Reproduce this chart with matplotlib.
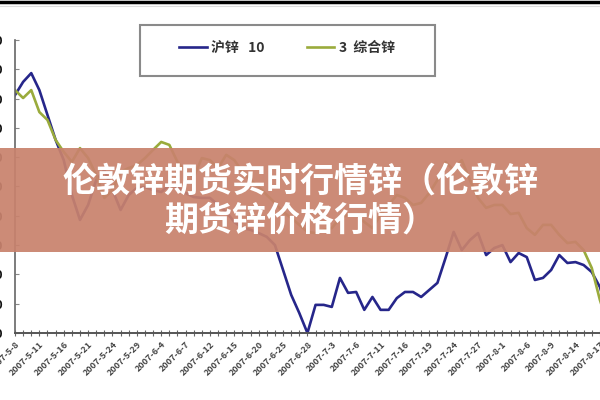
import matplotlib
matplotlib.use('Agg')
import matplotlib.pyplot as plt
from matplotlib.patches import Rectangle
from matplotlib.lines import Line2D
from matplotlib.ticker import MultipleLocator

plt.rcParams['font.family'] = ['Noto Sans CJK SC', 'DejaVu Sans']

# ---- data ----
date_labels = ['2007-5-8', '2007-5-11', '2007-5-16', '2007-5-21', '2007-5-24',
               '2007-5-29', '2007-6-4', '2007-6-7', '2007-6-12', '2007-6-15',
               '2007-6-20', '2007-6-25', '2007-6-28', '2007-7-3', '2007-7-6',
               '2007-7-11', '2007-7-16', '2007-7-19', '2007-7-24', '2007-7-27',
               '2007-8-1', '2007-8-6', '2007-8-9', '2007-8-14', '2007-8-17']

shanghai_zinc = [35120, 35570, 35870, 35290, 34440, 33590, 32900, 31710, 30860, 31370,
                 32220, 32560, 31880, 31200, 31710, 31950, 31980, 31880, 31810, 32050,
                 31980, 31780, 31640, 31610, 31610, 31370, 31130, 30790, 30580, 30520,
                 30410, 30280, 30000, 29150, 28300, 27680, 27000, 27960, 27960, 27890,
                 28880, 28370, 28400, 27790, 28230, 27790, 27790, 28190, 28400, 28400,
                 28230, 28470, 28710, 29560, 30450, 29830, 30170, 30410, 29660, 29900,
                 30000, 29420, 29730, 29590, 28810, 28880, 29150, 29660, 29390, 29420,
                 29320, 29080, 28570, 27610]

lme_zinc = [35290, 35020, 35290, 34540, 34270, 33590, 33180, 32840, 33310, 32970,
            32390, 31610, 31880, 32500, 32630, 32730, 32970, 33250, 33520, 33420,
            32840, 32500, 32320, 32970, 32900, 32630, 33080, 32900, 32500, 32220,
            31980, 31710, 31440, 31130, 30930, 30690, 30450, 30410, 30520, 30580,
            30930, 31030, 31030, 30790, 30580, 31030, 31370, 31710, 31610, 31370,
            31440, 31780, 32220, 32840, 32560, 32900, 32220, 31610, 31270, 31370,
            31370, 31060, 31100, 30580, 30350, 30690, 30690, 30350, 30070, 30110,
            29830, 29220, 28130, 27270]

series_names = ['沪锌   10', '3  综合锌']
y_ticks = list(range(27000, 37001, 1000))

# ---- figure ----
fig = plt.figure(figsize=(6, 4), dpi=100)
fig.patch.set_facecolor('white')
ax = fig.add_axes([15/600, 67/400, 593/600, 293/400])

xs = list(range(len(shanghai_zinc)))
l1, = ax.plot(xs, shanghai_zinc, color='#26268a', lw=1.9, solid_joinstyle='round')
l2, = ax.plot(xs, lme_zinc, color='#9aab3c', lw=1.9, solid_joinstyle='round')

ax.set_xlim(0, len(xs) - 1)
ax.set_ylim(y_ticks[0], y_ticks[-1])
for s in ['top', 'right']:
    ax.spines[s].set_visible(False)
ax.spines['left'].set_color('#666666')
ax.spines['bottom'].set_color('#555555')
ax.spines['left'].set_linewidth(1.2)
ax.spines['bottom'].set_linewidth(1.4)

ax.set_yticks(y_ticks)
ax.set_yticklabels([str(v) for v in y_ticks])
ax.tick_params(axis='y', direction='in', length=3, width=0.8, color='#888888',
               pad=8.5, labelsize=9, labelcolor='#111111')
for t in ax.get_yticklabels():
    t.set_fontweight('bold')

ax.set_xticks(list(range(0, len(xs), 3)))
ax.set_xticklabels(date_labels, rotation=45, ha='right', va='top',
                   rotation_mode='anchor', fontsize=6.5, color='#444444',
                   fontweight='bold')
ax.xaxis.set_minor_locator(MultipleLocator(1))
ax.tick_params(axis='x', which='both', direction='inout', length=4, width=0.8,
               color='#666666', pad=3)

# ---- legend ----
fig.add_artist(Rectangle((140/600, 1 - 76/400), 295/600, 51/400,
                         transform=fig.transFigure, fill=False,
                         ec='#8a8a8a', lw=1.5))
leg = fig.legend([l1, l2], series_names, loc='center',
                 bbox_to_anchor=(287/600, 1 - 48/400), ncol=2, frameon=False,
                 fontsize=10, handlelength=2.0, handletextpad=0.3,
                 columnspacing=3.0, labelcolor='#333333')
for t in leg.get_texts():
    t.set_fontweight('bold')

# ---- top border lines ----
fig.add_artist(Line2D([0, 1], [1 - 1.5/400] * 2, transform=fig.transFigure,
                      color='black', lw=2.5))
fig.add_artist(Line2D([0, 1], [1 - 6/400] * 2, transform=fig.transFigure,
                      color='#dddddd', lw=0.8))

# ---- banner ----
fig.add_artist(Rectangle((0, 1 - 252/400), 1, 104/400, transform=fig.transFigure,
                         fc='#c8826d', ec='none', alpha=0.93, zorder=10))
fig.text(0.5, 1 - 181/400, '伦敦锌期货实时行情锌（伦敦锌', ha='center', va='center',
         color='white', fontsize=24.5, fontweight='black', zorder=11)
fig.text(0.5, 1 - 220/400, '期货锌价格行情）', ha='center', va='center',
         color='white', fontsize=24.5, fontweight='black', zorder=11)

fig.savefig('out.png', dpi=100)
